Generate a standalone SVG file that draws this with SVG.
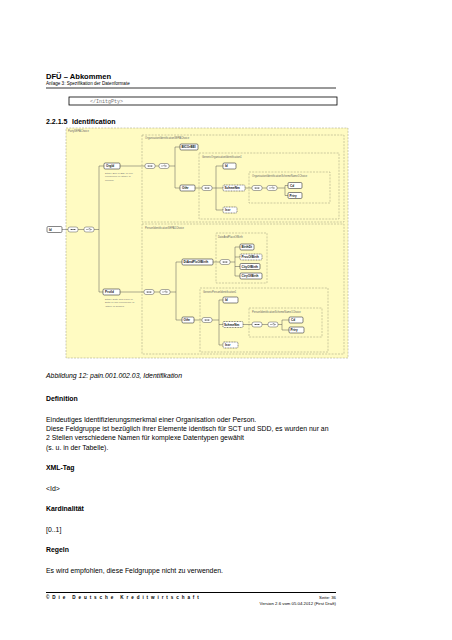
<svg xmlns="http://www.w3.org/2000/svg" width="452" height="640" viewBox="0 0 452 640">
<defs>
<style>
.pg{font-family:"Liberation Sans",Arial,sans-serif;fill:#000}
.b{font-weight:bold}
.grp{fill:none;stroke:#9a9a7a;stroke-width:0.5;stroke-dasharray:2 1.2}
.gl{font-family:"Liberation Sans",Arial,sans-serif;font-size:2.6px;fill:#666}
.el{fill:#fff;stroke:#333;stroke-width:0.6}
.opt{fill:#fff;stroke:#333;stroke-width:0.6;stroke-dasharray:1 0.6}
.et{font-family:"Liberation Sans",Arial,sans-serif;font-size:3.1px;font-weight:bold;fill:#111}
.an{font-family:"Liberation Sans",Arial,sans-serif;font-size:2.5px;fill:#777}
.cn{fill:none;stroke:#555;stroke-width:0.5}
.cp{fill:#fff;stroke:#555;stroke-width:0.5}
</style>
<symbol id="seq" viewBox="0 0 10 5" width="10" height="5" overflow="visible">
<rect x="0" y="0" width="10" height="5" rx="2" class="cp"/>
<line x1="2" y1="2.5" x2="8" y2="2.5" stroke="#555" stroke-width="0.4"/>
<circle cx="3.5" cy="2.5" r="0.5" fill="#333"/><circle cx="5" cy="2.5" r="0.5" fill="#333"/><circle cx="6.5" cy="2.5" r="0.5" fill="#333"/>
</symbol>
<symbol id="cho" viewBox="0 0 10 5" width="10" height="5" overflow="visible">
<rect x="0" y="0" width="10" height="5" rx="2" class="cp"/>
<path d="M2 2.5H4L6 1.3M6 1.3V3.7M6 2.5H8" fill="none" stroke="#333" stroke-width="0.4"/>
</symbol>
</defs>
<rect width="452" height="640" fill="#fff"/>

<!-- page header -->
<g id="header">
<text class="pg b" x="46" y="79" font-size="7.6">DFÜ – Abkommen</text>
<text class="pg" x="46" y="85" font-size="4.6" fill="#222">Anlage 3: Spezifikation der Datenformate</text>
<line x1="46" y1="88" x2="336" y2="88" stroke="#000" stroke-width="0.8"/>
<rect x="69" y="97" width="268" height="8" fill="#fff" stroke="#000" stroke-width="0.8"/>
<text x="90" y="102.7" font-family="Liberation Mono,monospace" font-size="5" fill="#777">&lt;/InitgPty&gt;</text>
<text class="pg b" x="46" y="124" font-size="7">2.2.1.5</text>
<text class="pg b" x="72" y="124" font-size="7">Identification</text>
</g>

<!-- diagram background / groups -->
<g id="groups">
<rect x="66" y="128" width="282" height="230" fill="#fffbc2" stroke="#9a9a7a" stroke-width="0.5" stroke-dasharray="2 1.2"/>
<text class="gl" x="68" y="132">PartySEPAChoice</text>
<rect class="grp" x="142" y="135" width="202" height="87"/>
<text class="gl" x="145" y="139">OrganisationIdentificationSEPAChoice</text>
<rect class="grp" x="199" y="153" width="140" height="66"/>
<text class="gl" x="202" y="157.5">GenericOrganisationIdentification1</text>
<rect class="grp" x="249" y="172" width="81" height="31"/>
<text class="gl" x="252" y="176.5">OrganisationIdentificationSchemeName1Choice</text>
<rect class="grp" x="142" y="224" width="202" height="130"/>
<text class="gl" x="145" y="228.5">PersonIdentificationSEPA1Choice</text>
<rect class="grp" x="216" y="233" width="51" height="50"/>
<text class="gl" x="218" y="237.5">DateAndPlaceOfBirth</text>
<rect class="grp" x="200" y="288" width="128" height="64"/>
<text class="gl" x="203" y="292.5">GenericPersonIdentification1</text>
<rect class="grp" x="249" y="308" width="73" height="29"/>
<text class="gl" x="252" y="312.5">PersonIdentificationSchemeName1Choice</text>
</g>

<!-- connectors -->
<g id="connectors" class="cn">
<path d="M62 229.5H68M78 229.5H84M94 229.5H99M99 166V292M99 166H104M99 292H103"/>
<path d="M120 166H145M155 166H159M169 166H175M175 147V188M175 147H180M175 188H180"/>
<path d="M195 188H202M212 188H216M216 166V210M216 166H223M216 188H223M216 210H223"/>
<path d="M245 188H252M262 188H267M277 188H285M285 185.5V195.5M285 185.5H288M285 195.5H288"/>
<path d="M120 292H144M154 292H160M170 292H176M176 262V320M176 262H182M176 320H182"/>
<path d="M213 262H220M230 262H235M235 247V276M235 247H240M235 257H240M235 266.5H240M235 276H240"/>
<path d="M194 320H202M212 320H219M219 300V345M219 300H223M219 324.5H223M219 345H223"/>
<path d="M243 324.5H252M262 324.5H268M278 324.5H282M282 320V330M282 320H289M282 330H289"/>
</g>

<!-- compositors -->
<g id="compositors">
<use href="#seq" x="68" y="227"/>
<use href="#cho" x="84" y="227"/>
<use href="#seq" x="145" y="163.5"/>
<use href="#cho" x="159" y="163.5"/>
<use href="#seq" x="202" y="185.5"/>
<use href="#seq" x="252" y="185.5"/>
<use href="#cho" x="267" y="185.5"/>
<use href="#seq" x="144" y="289.5"/>
<use href="#cho" x="160" y="289.5"/>
<use href="#seq" x="220" y="259.5"/>
<use href="#seq" x="202" y="317.5"/>
<use href="#seq" x="252" y="322"/>
<use href="#cho" x="268" y="322"/>
</g>

<!-- element nodes -->
<g id="n-id"><rect class="el" x="47" y="226.5" width="15" height="6" rx="1.2"/><text class="et" x="49" y="230.7">Id</text></g>

<g id="n-orgid"><rect class="el" x="104" y="163" width="16" height="6" rx="1.2"/><text class="et" x="106" y="167.2">OrgId</text>
<text class="an" x="105" y="174">Either 'BIC or BEI' or one</text>
<text class="an" x="105" y="177.3">occurrence of 'Other' is</text>
<text class="an" x="105" y="180.6">allowed.</text></g>
<g id="n-bicorbei"><rect class="el" x="180" y="144" width="18" height="6" rx="1.2"/><text class="et" x="181.5" y="148.2">BICOrBEI</text></g>
<g id="n-othr1"><rect class="el" x="180" y="185" width="15" height="6" rx="1.2"/><text class="et" x="182" y="189.2">Othr</text></g>
<g id="n-id1"><rect class="el" x="223" y="163" width="13" height="6" rx="1.2"/><text class="et" x="225" y="167.2">Id</text></g>
<g id="n-schmenm1"><rect class="opt" x="223" y="185" width="22" height="6" rx="1.2"/><text class="et" x="224.5" y="189.2">SchmeNm</text></g>
<g id="n-issr1"><rect class="opt" x="223" y="207" width="14" height="6" rx="1.2"/><text class="et" x="225" y="211.2">Issr</text></g>
<g id="n-cd1"><rect class="el" x="288" y="182.5" width="14" height="6" rx="1.2"/><text class="et" x="290" y="186.7">Cd</text></g>
<g id="n-prtry1"><rect class="el" x="288" y="192.5" width="14" height="6" rx="1.2"/><text class="et" x="289.5" y="196.7">Prtry</text></g>

<g id="n-prvtid"><rect class="el" x="103" y="289" width="17" height="6" rx="1.2"/><text class="et" x="105" y="293.2">PrvtId</text>
<text class="an" x="105" y="300">Either 'Date and Place of</text>
<text class="an" x="105" y="303.3">Birth' or one occurrence of</text>
<text class="an" x="105" y="306.6">'Other' is allowed.</text></g>
<g id="n-dtandplcofbirth"><rect class="el" x="182" y="259" width="31" height="6" rx="1.2"/><text class="et" x="183.5" y="263.2">DtAndPlcOfBirth</text></g>
<g id="n-birthdt"><rect class="el" x="240" y="244" width="14" height="6" rx="1.2"/><text class="et" x="241.5" y="248.2">BirthDt</text></g>
<g id="n-prvcofbirth"><rect class="opt" x="240" y="254" width="22" height="6" rx="1.2"/><text class="et" x="241.5" y="258.2">PrvcOfBirth</text></g>
<g id="n-cityofbirth"><rect class="el" x="240" y="263.5" width="20" height="6" rx="1.2"/><text class="et" x="241.5" y="267.7">CityOfBirth</text></g>
<g id="n-ctryofbirth"><rect class="el" x="240" y="273" width="22" height="6" rx="1.2"/><text class="et" x="241.5" y="277.2">CtryOfBirth</text></g>
<g id="n-othr2"><rect class="el" x="182" y="317" width="12" height="6" rx="1.2"/><text class="et" x="183.5" y="321.2">Othr</text></g>
<g id="n-id2"><rect class="el" x="223" y="297" width="15" height="6" rx="1.2"/><text class="et" x="225" y="301.2">Id</text></g>
<g id="n-schmenm2"><rect class="opt" x="223" y="321.5" width="20" height="6" rx="1.2"/><text class="et" x="224" y="325.7">SchmeNm</text></g>
<g id="n-issr2"><rect class="opt" x="223" y="342" width="15" height="6" rx="1.2"/><text class="et" x="225" y="346.2">Issr</text></g>
<g id="n-cd2"><rect class="el" x="289" y="317" width="14" height="6" rx="1.2"/><text class="et" x="291" y="321.2">Cd</text></g>
<g id="n-prtry2"><rect class="el" x="289" y="327" width="15" height="6" rx="1.2"/><text class="et" x="290.5" y="331.2">Prtry</text></g>

<!-- body text -->
<g id="body" class="pg" font-size="6.9">
<text x="46" y="377.5" font-style="italic">Abbildung 12: pain.001.002.03, Identifikation</text>
<text x="46" y="400.5" class="b">Definition</text>
<text x="46" y="421.5">Eindeutiges Identifizierungsmerkmal einer Organisation oder Person.</text>
<text x="46" y="430.5">Diese Feldgruppe ist bezüglich ihrer Elemente identisch für SCT und SDD, es wurden nur an</text>
<text x="46" y="440">2 Stellen verschiedene Namen für komplexe Datentypen gewählt</text>
<text x="46" y="449.5">(s. u. in der Tabelle).</text>
<text x="46" y="470" class="b">XML-Tag</text>
<text x="46" y="490.5">&lt;Id&gt;</text>
<text x="46" y="511" class="b">Kardinalität</text>
<text x="46" y="531.5">[0..1]</text>
<text x="46" y="552" class="b">Regeln</text>
<text x="46" y="572.5">Es wird empfohlen, diese Feldgruppe nicht zu verwenden.</text>
</g>

<!-- footer -->
<g id="footer">
<line x1="46" y1="592.5" x2="336" y2="592.5" stroke="#000" stroke-width="1"/>
<text class="pg b" x="46" y="598.5" font-size="4.6" letter-spacing="2.9">©Die Deutsche Kreditwirtschaft</text>
<text class="pg" x="336" y="598.5" font-size="4.3" text-anchor="end">Seite: 36</text>
<text class="pg" x="336" y="604.5" font-size="4.3" text-anchor="end">Version 2.6 vom 05.04.2012 (First Draft)</text>
</g>
</svg>
